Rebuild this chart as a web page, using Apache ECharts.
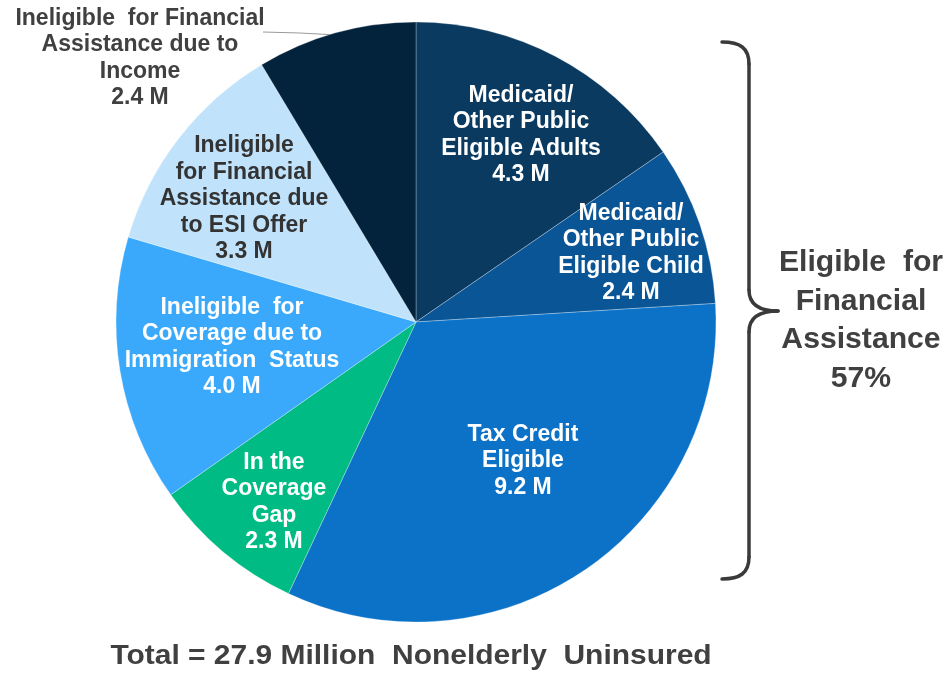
<!DOCTYPE html>
<html>
<head>
<meta charset="utf-8">
<script src="https://cdn.jsdelivr.net/npm/echarts@6/dist/echarts.min.js"></script>
<style>
html,body{margin:0;padding:0;background:#fff;}
#chart{width:949px;height:673px;}
</style>
</head>
<body>
<div id="chart"></div>
<script>
// ---- data ----
const categories = [
  'Medicaid/\nOther Public\nEligible Adults',
  'Medicaid/\nOther Public\nEligible Child',
  'Tax Credit\nEligible',
  'In the\nCoverage\nGap',
  'Ineligible  for\nCoverage due to\nImmigration  Status',
  'Ineligible\nfor Financial\nAssistance due\nto ESI Offer',
  'Ineligible  for Financial\nAssistance due to\nIncome'
];
const values = [4.3, 2.4, 9.2, 2.3, 4.0, 3.3, 2.4];
const totalLabel = 'Total = 27.9 Million  Nonelderly  Uninsured';
const braceLabel = 'Eligible  for\nFinancial\nAssistance\n57%';

// ---- styles ----
const colors = ['#0a3a60', '#0a5596', '#0b72c7', '#00bc84', '#3ba9fb', '#c0e3fb', '#03233d'];
const textColors = ['#fff', '#fff', '#fff', '#fff', '#fff', '#333', '#404040'];
const labelPos = [[521,135],[631,253],[523,461],[274,502],[232,347],[244,199],[140,58]];

const chart = echarts.init(document.getElementById('chart'));
const data = categories.map((n, i) => ({
  name: n,
  value: values[i],
  itemStyle: { color: colors[i] },
  label: { color: textColors[i], position: i === 6 ? 'outside' : 'inside' },
  labelLine: { show: i === 6 }
}));

const braceStyle = { fill: 'none', stroke: '#3a3a3a', lineWidth: 3.5, lineCap: 'round' };
function bez(x1, y1, a, b, c, d, x2, y2) {
  return { type: 'bezierCurve', shape: { x1: x1, y1: y1, cpx1: a, cpy1: b, cpx2: c, cpy2: d, x2: x2, y2: y2 }, style: braceStyle };
}
function seg(x1, y1, x2, y2) {
  return { type: 'line', shape: { x1: x1, y1: y1, x2: x2, y2: y2 }, style: braceStyle };
}

chart.setOption({
  animation: false,
  series: [{
    type: 'pie',
    center: [416, 322],
    radius: 300,
    startAngle: 90,
    clockwise: true,
    data: data,
    itemStyle: { borderColor: 'rgba(255,255,255,0.35)', borderWidth: 0.8 },
    label: {
      fontFamily: 'Liberation Sans, Arial, sans-serif',
      fontWeight: 'bold',
      fontSize: 23,
      lineHeight: 26.5,
      align: 'center',
      verticalAlign: 'middle',
      formatter: p => p.name + '\n' + p.value.toFixed(1) + ' M'
    },
    labelLine: { lineStyle: { color: '#999', width: 1 } },
    labelLayout: function (params) {
      const i = params.dataIndex;
      const o = { x: labelPos[i][0], y: labelPos[i][1], align: 'center', verticalAlign: 'middle' };
      if (i === 6) o.labelLinePoints = [[263, 32], [300, 33], [337, 35]];
      return o;
    }
  }],
  graphic: [
    bez(722, 42, 740, 42, 749, 48, 749, 64),
    seg(749, 64, 749, 290),
    bez(749, 290, 749, 304, 758, 311, 778, 311),
    bez(778, 311, 758, 311, 749, 318, 749, 332),
    seg(749, 332, 749, 557),
    bez(749, 557, 749, 573, 740, 579, 722, 579),
    {
      type: 'text',
      x: 861, y: 321,
      scaleX: 1.04,
      style: {
        text: braceLabel,
        fontFamily: 'Liberation Sans, Arial, sans-serif',
        fontWeight: 'bold',
        fontSize: 29,
        lineHeight: 38.5,
        fill: '#404040',
        align: 'center',
        verticalAlign: 'middle'
      }
    },
    {
      type: 'text',
      x: 411, y: 656,
      scaleX: 1.07,
      style: {
        text: totalLabel,
        fontFamily: 'Liberation Sans, Arial, sans-serif',
        fontWeight: 'bold',
        fontSize: 28,
        fill: '#404040',
        align: 'center',
        verticalAlign: 'middle'
      }
    }
  ]
});
</script>
</body>
</html>
